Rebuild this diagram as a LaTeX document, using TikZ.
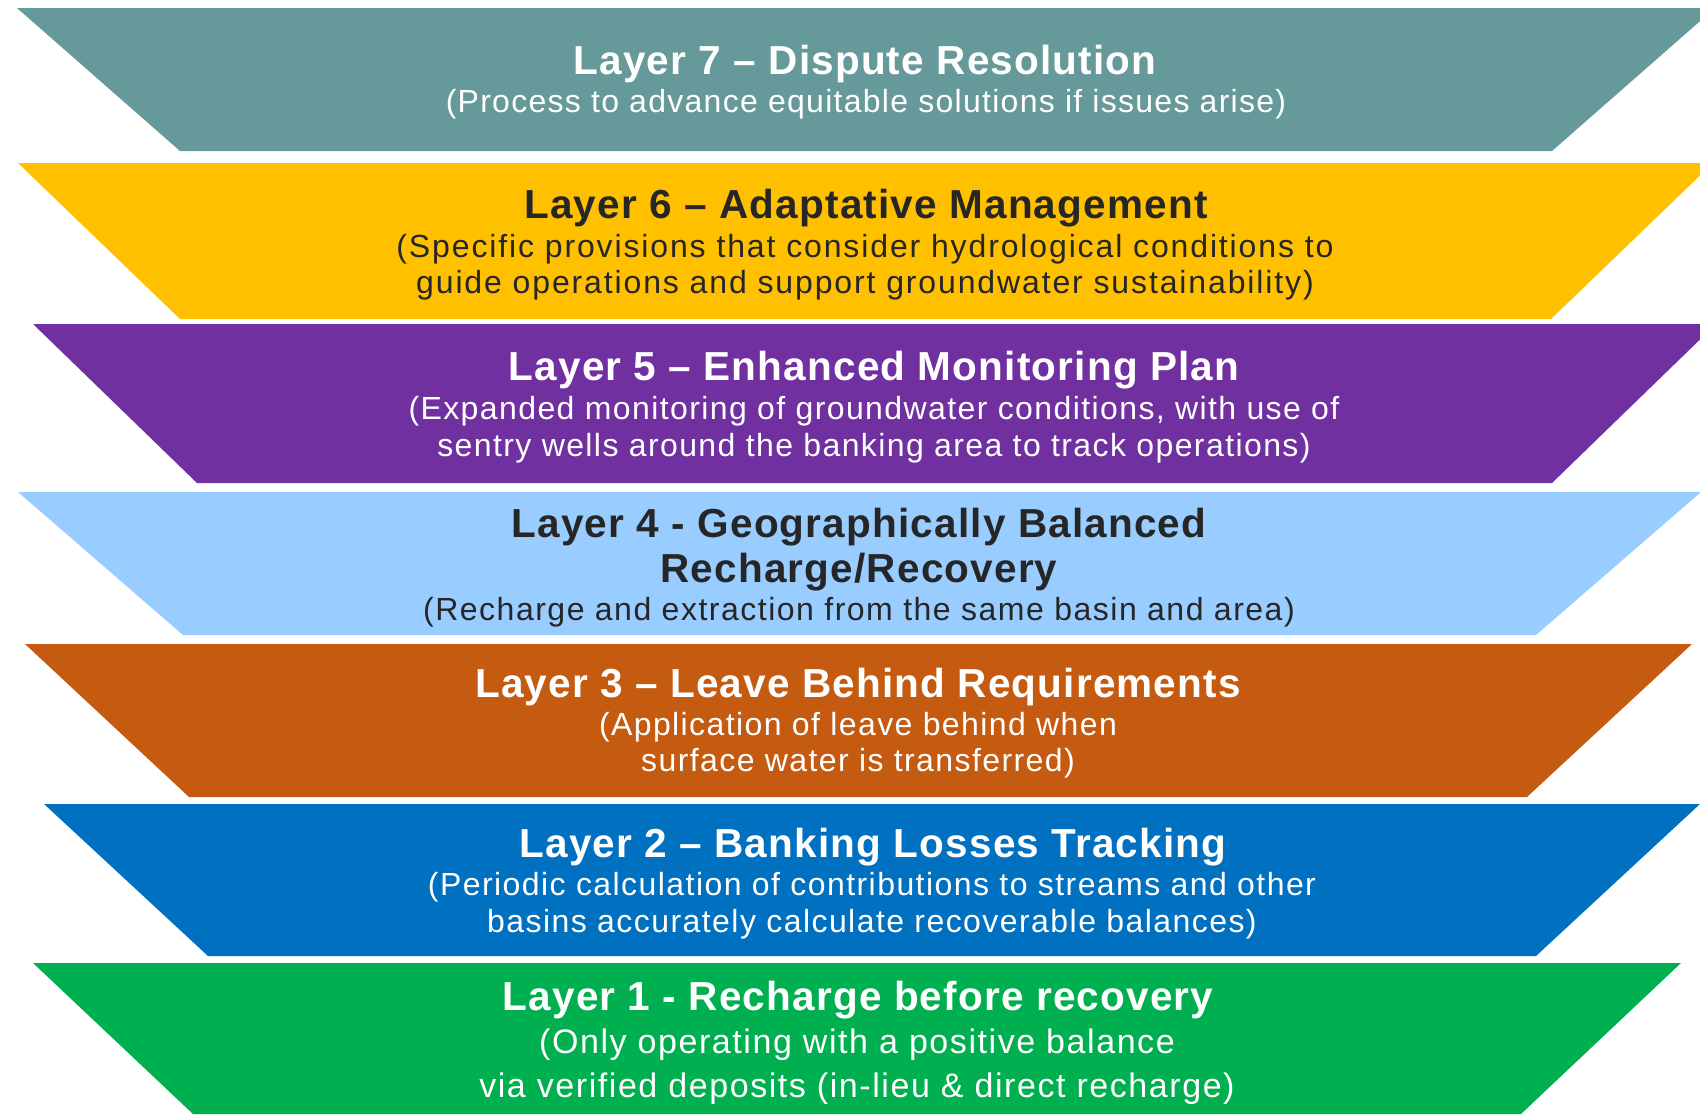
\documentclass[tikz,border=0pt]{standalone}
\usepackage{fontspec}
\setmainfont{Liberation Sans}
\definecolor{cteal}{HTML}{669999}
\definecolor{cyellow}{HTML}{FFC000}
\definecolor{cpurple}{HTML}{7030A0}
\definecolor{clblue}{HTML}{99CCFF}
\definecolor{corange}{HTML}{C55A11}
\definecolor{cblue}{HTML}{0070C0}
\definecolor{cgreen}{HTML}{00B050}
\definecolor{cdark}{HTML}{262626}
\tikzset{
  ltitle/.style={anchor=base, inner sep=0pt, font=\fontsize{40.5}{48}\selectfont\bfseries\addfontfeatures{LetterSpace=2.9}},
  lsub/.style={anchor=base, inner sep=0pt, font=\fontsize{32}{38}\selectfont\addfontfeatures{LetterSpace=#1}},
  lsub/.default=4.5,
  lsubbig/.style={anchor=base, inner sep=0pt, font=\fontsize{34}{40}\selectfont\addfontfeatures{LetterSpace=#1}},
  lsubbig/.default=4.6,
  wtext/.style={text=white},
  dtext/.style={text=cdark},
}
\begin{document}
\begin{tikzpicture}[x=1pt,y=-1pt]
\useasboundingbox (0,0) rectangle (1700,1114);
\begin{scope}
\clip (0,0) rectangle (1700,1114);
% Layer 7
\fill[cteal] (17,8) -- (1715,8) -- (1552,151) -- (180,151) -- cycle;
% Layer 6
\fill[cyellow] (18,163) -- (1713,163) -- (1551,319) -- (180,319) -- cycle;
% Layer 5
\fill[cpurple] (33,324) -- (1716,324) -- (1552,483) -- (197,483) -- cycle;
% Layer 4
\fill[clblue] (18,492) -- (1701,492) -- (1536,635) -- (183,635) -- cycle;
% Layer 3
\fill[corange] (25,644) -- (1692,644) -- (1527,797) -- (189,797) -- cycle;
% Layer 2
\fill[cblue] (44,804) -- (1700,804) -- (1536,956) -- (208,956) -- cycle;
% Layer 1
\fill[cgreen] (33,963) -- (1681,963) -- (1521,1114) -- (193,1114) -- cycle;
\end{scope}

% Layer 7 text
\node[ltitle, wtext] (l7t) at (865,74) {Layer 7 – Dispute Resolution};
\node[lsub=4.0, wtext] (l7s) at (866,112) {(Process to advance equitable solutions if issues arise)};
% Layer 6 text
\node[ltitle, dtext] (l6t) at (866,218) {Layer 6 – Adaptative Management};
\node[lsub=5.85, dtext] (l6s1) at (865,257) {(Specific provisions that consider hydrological conditions to};
\node[lsub=5.85, dtext] (l6s2) at (865,293) {guide operations and support groundwater sustainability)};
% Layer 5 text
\node[ltitle, wtext] (l5t) at (874,380) {Layer 5 – Enhanced Monitoring Plan};
\node[lsub=4.4, wtext] (l5s1) at (874,419) {(Expanded monitoring of groundwater conditions, with use of};
\node[lsub=4.4, wtext] (l5s2) at (874,456) {sentry wells around the banking area to track operations)};
% Layer 4 text
\node[ltitle, dtext] (l4t1) at (859,537) {Layer 4 - Geographically Balanced};
\node[ltitle, dtext] (l4t2) at (859,582) {Recharge/Recovery};
\node[lsub=4.7, dtext] (l4s) at (859,620) {(Recharge and extraction from the same basin and area)};
% Layer 3 text
\node[ltitle, wtext] (l3t) at (858,697) {Layer 3 – Leave Behind Requirements};
\node[lsub=4.4, wtext] (l3s1) at (858,735) {(Application of leave behind when};
\node[lsub=4.4, wtext] (l3s2) at (858,771) {surface water is transferred)};
% Layer 2 text
\node[ltitle, wtext] (l2t) at (873,857) {Layer 2 – Banking Losses Tracking};
\node[lsub=4.5, wtext] (l2s1) at (872,895) {(Periodic calculation of contributions to streams and other};
\node[lsub=4.5, wtext] (l2s2) at (872,932) {basins accurately calculate recoverable balances)};
% Layer 1 text
\node[ltitle, wtext] (l1t) at (858,1010) {Layer 1 - Recharge before recovery};
\node[lsubbig=4.6, wtext] (l1s1) at (857,1053) {(Only operating with a positive balance};
\node[lsubbig=4.6, wtext] (l1s2) at (857,1097) {via verified deposits (in-lieu \& direct recharge)};
\end{tikzpicture}
\end{document}
